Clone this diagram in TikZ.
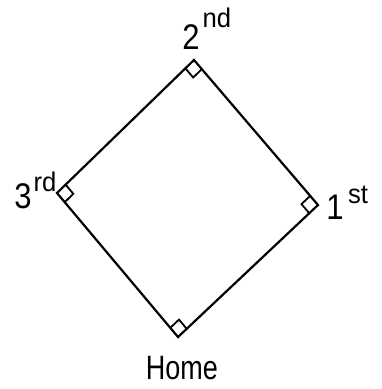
\documentclass[tikz,border=0pt]{standalone}
\usepackage{fontspec}
\setmainfont{Liberation Sans}
\usetikzlibrary{calc}
\tikzset{
  edge/.style={line width=2.2pt, line cap=round},
  corner/.style={line width=1.8pt, line join=miter},
  lab/.style={inner sep=0pt, font=\fontsize{31}{31}\selectfont, yscale=1.15},
  suplab/.style={inner sep=0pt, font=\fontsize{27}{27}\selectfont, xscale=0.95}
}
\begin{document}
\begin{tikzpicture}[x=1pt,y=-1pt]
\useasboundingbox (0,0) rectangle (382,389);
\coordinate (top) at (194,60);
\coordinate (right) at (318,205);
\coordinate (bottom) at (178,337);
\coordinate (left) at (57,193);
\draw[edge] (top) -- (right) -- (bottom) -- (left) -- cycle;
% right-angle markers
\foreach \v/\a/\b in {top/left/right, right/top/bottom, bottom/right/left, left/bottom/top}{
  \draw[corner] ($(\v)!12pt!(\a)$) -- ($($(\v)!12pt!(\a)$)+($(\v)!12pt!(\b)$)-(\v)$) -- ($(\v)!12pt!(\b)$);
}
% labels
\node[lab] (two) at (191,37) {2};
\node[suplab] (nd) at (217,18) {nd};
\node[lab] (three) at (23,196) {3};
\node[suplab] (rd) at (45,182) {rd};
\node[lab] (one) at (335,207) {1};
\node[suplab] (st) at (358,195) {st};
\node[inner sep=0pt, font=\fontsize{27}{27}\selectfont, yscale=1.25] (home) at (182,368) {Home};
\end{tikzpicture}
\end{document}
